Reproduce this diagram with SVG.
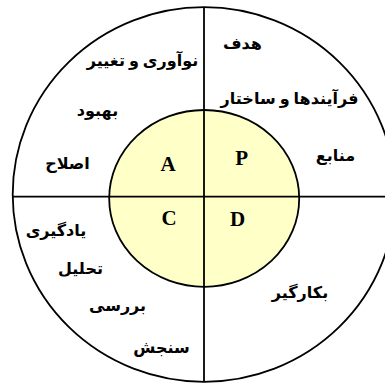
<svg xmlns="http://www.w3.org/2000/svg" width="385" height="383" viewBox="0 0 385 383">
<style>
.ln{stroke:#000;stroke-width:1.8}
.fa{font-family:"Liberation Serif","DejaVu Sans",serif;font-weight:bold;font-size:16px;text-anchor:middle;fill:#000}
.lt{font-family:"Liberation Serif","Times New Roman",serif;font-weight:bold;font-size:21px;text-anchor:middle;fill:#000}
</style>
<rect width="385" height="383" fill="#fff"/>
<g id="outer-ring">
<ellipse class="ln" cx="204" cy="194.5" rx="191.3" ry="187.3" fill="#fff"/>
</g>
<g id="inner-circle">
<ellipse class="ln" cx="204.2" cy="198.4" rx="95" ry="88.4" fill="#FFFFC8"/>
</g>
<g id="connectors">
<line class="ln" x1="12.7" y1="196.6" x2="385" y2="196.6"/>
<line class="ln" x1="204" y1="7.2" x2="204" y2="381.8"/>
</g>
<g id="quadrant-A">
<text class="lt" x="168" y="170.5">A</text>
<text class="fa" x="142.5" y="66" direction="rtl">نوآوری و تغییر</text>
<text class="fa" x="97.5" y="116" direction="rtl">بهبود</text>
<text class="fa" x="67.5" y="169" direction="rtl">اصلاح</text>
</g>
<g id="quadrant-P">
<text class="lt" x="241.7" y="164.5">P</text>
<text class="fa" x="242.5" y="49" direction="rtl">هدف</text>
<text class="fa" x="289.5" y="104" direction="rtl">فرآیندها و ساختار</text>
<text class="fa" x="335.5" y="161" direction="rtl">منابع</text>
</g>
<g id="quadrant-C">
<text class="lt" x="169" y="224.5">C</text>
<text class="fa" x="56" y="236" direction="rtl">یادگیری</text>
<text class="fa" x="80.5" y="274" direction="rtl">تحلیل</text>
<text class="fa" x="117.5" y="311" direction="rtl">بررسی</text>
<text class="fa" x="161.5" y="353" direction="rtl">سنجش</text>
</g>
<g id="quadrant-D">
<text class="lt" x="237.7" y="225.5">D</text>
<text class="fa" x="300" y="298" direction="rtl">بکارگیر</text>
</g>
</svg>
